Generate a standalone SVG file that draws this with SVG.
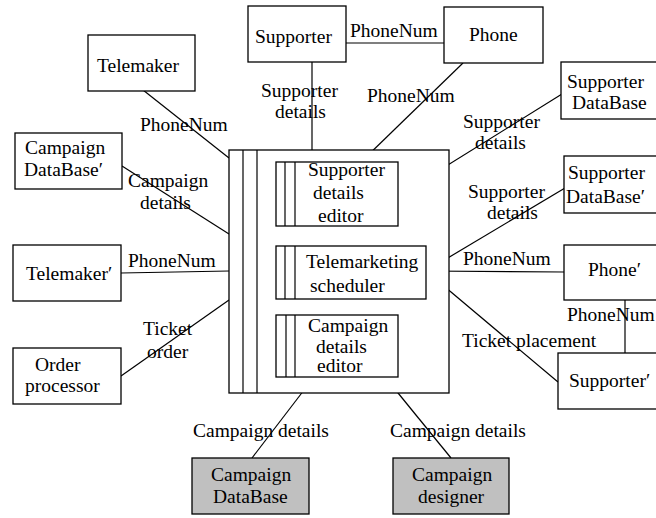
<svg xmlns="http://www.w3.org/2000/svg" width="656" height="518" viewBox="0 0 656 518">
<style>
.b{fill:#fff;stroke:#000;stroke-width:1.3}
.g{fill:#c0c0c0;stroke:#000;stroke-width:1.3}
.l{stroke:#000;stroke-width:1.2;fill:none}
text{font-family:"Liberation Serif","Times New Roman",serif;font-size:19.5px;fill:#000}
</style>
<rect width="656" height="518" fill="#fff"/>
<g id="connectors">
<line class="l" x1="143" y1="90" x2="229" y2="158"/>
<line class="l" x1="312" y1="62" x2="312" y2="162"/>
<line class="l" x1="346" y1="43" x2="444" y2="43"/>
<line class="l" x1="463" y1="63" x2="361" y2="162"/>
<line class="l" x1="562" y1="94" x2="398" y2="196"/>
<line class="l" x1="122" y1="166" x2="229" y2="234"/>
<line class="l" x1="257" y1="182" x2="276" y2="197"/>
<line class="l" x1="121" y1="273" x2="229" y2="271"/>
<line class="l" x1="257" y1="257" x2="276" y2="271"/>
<line class="l" x1="257" y1="271" x2="276" y2="271"/>
<line class="l" x1="257" y1="282" x2="276" y2="271"/>
<line class="l" x1="121" y1="376" x2="229" y2="300"/>
<line class="l" x1="426" y1="271" x2="565" y2="188"/>
<line class="l" x1="426" y1="271" x2="564" y2="272"/>
<line class="l" x1="426" y1="271" x2="558" y2="382"/>
<line class="l" x1="625" y1="300" x2="625" y2="353"/>
<line class="l" x1="314" y1="377" x2="252" y2="458"/>
<line class="l" x1="385" y1="377" x2="451" y2="458"/>
</g>
<g id="labels">
<text x="350" y="37">PhoneNum</text>
<text x="261" y="97">Supporter</text>
<text x="275" y="118">details</text>
<text x="367" y="102">PhoneNum</text>
<text x="463" y="128">Supporter</text>
<text x="475" y="149">details</text>
<text x="140" y="131">PhoneNum</text>
<text x="128" y="187">Campaign</text>
<text x="140" y="209">details</text>
<text x="468" y="198">Supporter</text>
<text x="487" y="219">details</text>
<text x="463" y="265">PhoneNum</text>
<text x="128" y="267">PhoneNum</text>
<text x="567" y="321">PhoneNum</text>
<text x="143" y="335">Ticket</text>
<text x="147" y="358">order</text>
<text x="462" y="347">Ticket placement</text>
<text x="193" y="437">Campaign details</text>
<text x="390" y="437">Campaign details</text>
</g>
<g id="telemaker"><rect class="b" x="88" y="35" width="107" height="56"/><text x="97" y="72">Telemaker</text></g>
<g id="supporter"><rect class="b" x="248" y="6" width="98" height="56"/><text x="255" y="43">Supporter</text></g>
<g id="phone"><rect class="b" x="444" y="7" width="99" height="56"/><text x="469" y="41">Phone</text></g>
<g id="supporter-db"><rect class="b" x="561" y="62" width="100" height="57"/><text x="567" y="88">Supporter</text><text x="572" y="109">DataBase</text></g>
<g id="supporter-db2"><rect class="b" x="564" y="156" width="97" height="57"/><text x="568" y="179">Supporter</text><text x="566" y="203">DataBase′</text></g>
<g id="phone2"><rect class="b" x="564" y="245" width="97" height="55"/><text x="588" y="276">Phone′</text></g>
<g id="supporter2"><rect class="b" x="558" y="353" width="103" height="56"/><text x="569" y="387">Supporter′</text></g>
<g id="campaign-db2"><rect class="b" x="15" y="133" width="107" height="56"/><text x="25" y="154">Campaign</text><text x="24" y="176">DataBase′</text></g>
<g id="telemaker2"><rect class="b" x="13" y="245" width="108" height="56"/><text x="26" y="280">Telemaker′</text></g>
<g id="order-processor"><rect class="b" x="13" y="348" width="108" height="56"/><text x="35" y="371">Order</text><text x="25" y="392">processor</text></g>
<g id="system">
<rect class="b" x="229" y="150" width="220" height="243"/>
<line class="l" x1="243" y1="150" x2="243" y2="393"/>
<line class="l" x1="257" y1="150" x2="257" y2="393"/>
</g>
<g id="supporter-details-editor"><rect class="b" x="276" y="162" width="122" height="64"/><line class="l" x1="285" y1="162" x2="285" y2="226"/><line class="l" x1="295" y1="162" x2="295" y2="226"/><text x="308" y="176">Supporter</text><text x="313" y="199">details</text><text x="318" y="222">editor</text></g>
<g id="telemarketing-scheduler"><rect class="b" x="276" y="246" width="150" height="53"/><line class="l" x1="285" y1="246" x2="285" y2="299"/><line class="l" x1="295" y1="246" x2="295" y2="299"/><text x="306" y="268">Telemarketing</text><text x="310" y="292">scheduler</text></g>
<g id="campaign-details-editor"><rect class="b" x="276" y="315" width="122" height="62"/><line class="l" x1="286" y1="315" x2="286" y2="377"/><line class="l" x1="295" y1="315" x2="295" y2="377"/><text x="308" y="332">Campaign</text><text x="316" y="353">details</text><text x="317" y="372">editor</text></g>
<g id="campaign-db"><rect class="g" x="192" y="458" width="117" height="56"/><text x="211" y="481">Campaign</text><text x="213" y="503">DataBase</text></g>
<g id="campaign-designer"><rect class="g" x="393" y="458" width="116" height="56"/><text x="412" y="481">Campaign</text><text x="418" y="503">designer</text></g>
</svg>
